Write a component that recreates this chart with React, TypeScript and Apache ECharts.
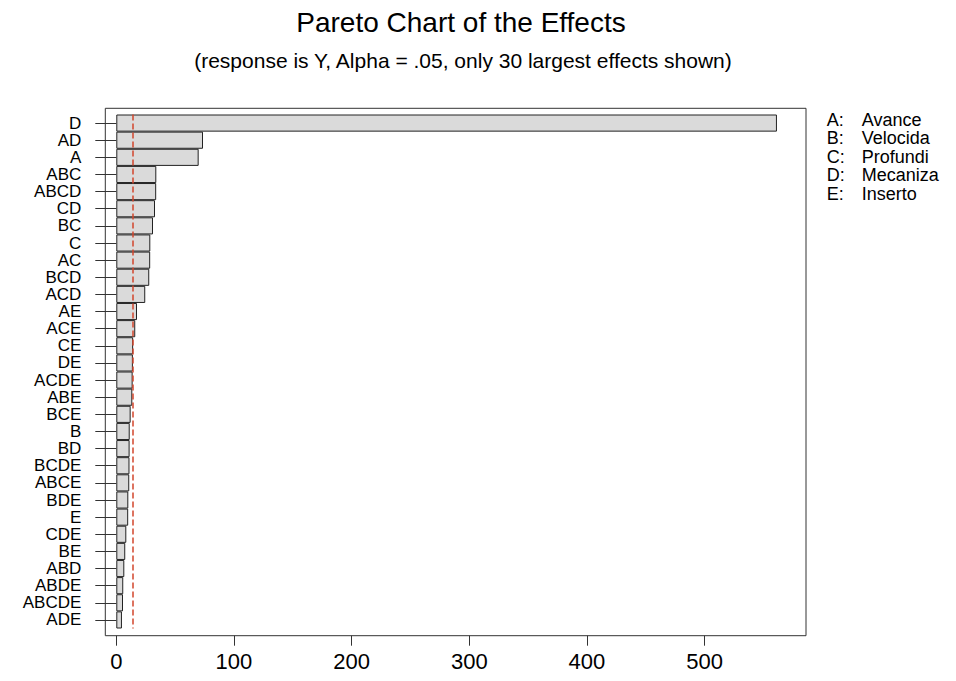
import React, { useEffect, useRef } from "react";
import * as echarts from "echarts";

const categories = ["D","AD","A","ABC","ABCD","CD","BC","C","AC","BCD","ACD","AE","ACE","CE","DE","ACDE","ABE","BCE","B","BD","BCDE","ABCE","BDE","E","CDE","BE","ABD","ABDE","ABCDE","ADE"];
const effects = [561.5, 73.7, 70.0, 34.0, 33.9, 32.9, 31.2, 28.9, 28.8, 28.0, 24.6, 17.6, 16.1, 14.3, 14.1, 13.9, 13.6, 12.2, 11.4, 11.3, 11.2, 11.0, 10.2, 10.1, 8.5, 7.6, 6.8, 5.9, 5.7, 4.8];
const referenceValue = 14.2;
const xTicks = [0, 100, 200, 300, 400, 500];
const factorKeys = ["A:", "B:", "C:", "D:", "E:"];
const factorNames = ["Avance", "Velocida", "Profundi", "Mecaniza", "Inserto"];
const titleText = "Pareto Chart of the Effects";
const subtitleText = "(response is Y, Alpha = .05, only 30 largest effects shown)";

const FONT = "'Liberation Sans', Arial, sans-serif";

export default function App() {
  const ref = useRef<HTMLDivElement>(null);
  useEffect(() => {
    if (!ref.current) return;
    const chart = echarts.init(ref.current, null, { renderer: "svg" });
    const boxL = 105.3, boxT = 108.3, boxR = 806, boxB = 635.7;
    const legendItems: any[] = [];
    factorKeys.forEach((k, i) => {
      legendItems.push({
        type: "text", x: 826.7, y: 119.5 + i * 18.6,
        style: { text: k, font: `18px ${FONT}`, fill: "#000", textVerticalAlign: "middle", textAlign: "left" },
      });
      legendItems.push({
        type: "text", x: 861.7, y: 119.5 + i * 18.6,
        style: { text: factorNames[i], font: `18px ${FONT}`, fill: "#000", textVerticalAlign: "middle", textAlign: "left" },
      });
    });
    chart.setOption({
      animation: false,
      backgroundColor: "#fff",
      grid: { left: boxL, right: 956 - boxR, top: 114.5, bottom: 681 - 628.5, containLabel: false },
      xAxis: {
        type: "value", min: -9.35, max: 586.2, offset: boxB - 628.5,
        axisLine: { show: false },
        splitLine: { show: false },
        axisTick: { show: true, customValues: xTicks, length: 10, lineStyle: { color: "#333", width: 1 } },
        axisLabel: { customValues: xTicks, fontSize: 22, fontFamily: FONT, color: "#000", margin: 15 },
      },
      yAxis: {
        type: "category", data: categories, inverse: true,
        axisLine: { show: false },
        axisTick: { show: true, alignWithLabel: true, length: 21, lineStyle: { color: "#333", width: 1 } },
        axisLabel: { fontSize: 17, fontFamily: FONT, color: "#000", margin: 24, interval: 0 },
      },
      series: [{
        type: "bar", data: effects, barWidth: "100%",
        itemStyle: { color: "#dadada", borderColor: "#222", borderWidth: 1 },
        markLine: {
          silent: true, symbol: "none", label: { show: false },
          lineStyle: { color: "#d2462c", type: [6, 3], width: 1.5 },
          data: [{ xAxis: referenceValue }],
        },
      }],
      graphic: [
        { type: "rect", shape: { x: boxL, y: boxT, width: boxR - boxL, height: boxB - boxT }, style: { fill: "none", stroke: "#333", lineWidth: 1 }, z: 10 },
        { type: "text", x: 461, y: 22, style: { text: titleText, font: `28px ${FONT}`, fill: "#000", textAlign: "center", textVerticalAlign: "middle" } },
        { type: "text", x: 463, y: 60, style: { text: subtitleText, font: `21px ${FONT}`, fill: "#000", textAlign: "center", textVerticalAlign: "middle" } },
        ...legendItems,
      ],
    });
    return () => chart.dispose();
  }, []);
  return <div ref={ref} style={{ position: "fixed", left: 0, top: 0, width: 956, height: 681 }} />;
}
